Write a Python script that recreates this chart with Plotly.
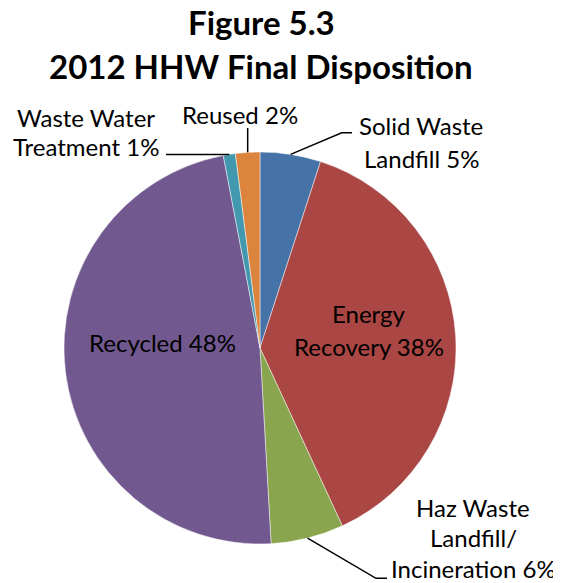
import math
import plotly.graph_objects as go

# ---- data ----
labels = ["Solid Waste Landfill", "Energy Recovery", "Haz Waste Landfill/Incineration",
          "Recycled", "Waste Water Treatment", "Reused"]
values = [5.0, 38.1, 6.0, 47.9, 1.0, 2.0]
label_lines = [["Solid Waste", "Landfill 5%"],
               ["Energy", "Recovery 38%"],
               ["Haz Waste", "Landfill/", "Incineration 6%"],
               ["Recycled 48%"],
               ["Waste Water", "Treatment 1%"],
               ["Reused 2%"]]
colors = ["#4572A7", "#AA4643", "#89A54E", "#71588F", "#4198AF", "#DB843D"]
title_lines = ["Figure 5.3", "2012 HHW Final Disposition"]

# ---- layout (pixels in page coordinates; page body has 8px margin) ----
OFF = 8
W, H = 561 - OFF, 583 - OFF
CX, CY, R = 260, 348, 196
FONT = "Lato"
FS = 24

def px(x):
    return (x - OFF) / W

def py(y):
    return 1 - (y - OFF) / H

# label placement: (center x, first line y, line spacing)
label_pos = [(421, 126, 32), (369, 313, 33), (473, 507, 30.5), (162, 342, 0),
             (86, 117, 29), (240, 114, 0)]
leaders = [[(341.7, 132.7), (352, 132.7)],
           None,
           [(376, 578.3), (387, 578.3)],
           None,
           "horiz",
           "vert"]

fig = go.Figure(go.Pie(
    labels=labels, values=values, sort=False, direction="clockwise", rotation=0,
    marker=dict(colors=colors, line=dict(color="rgba(255,255,255,0.6)", width=0.8)),
    textinfo="none", hoverinfo="label+percent", showlegend=False,
    domain=dict(x=[px(CX - R), px(CX + R)], y=[py(CY + R), py(CY - R)]),
))

annotations = []
for i, t in enumerate(title_lines):
    annotations.append(dict(text=f"<b>{t}</b>", x=px(261), y=py(22 + 44 * i),
                            xref="paper", yref="paper", showarrow=False,
                            xanchor="center", yanchor="middle", borderpad=0,
                            font=dict(family=FONT, size=33, color="black")))

for (lx, ly, ls), lines in zip(label_pos, label_lines):
    for j, ln in enumerate(lines):
        annotations.append(dict(text=ln, x=px(lx), y=py(ly + ls * j),
                                xref="paper", yref="paper", showarrow=False,
                                xanchor="center", yanchor="middle", borderpad=0,
                                font=dict(family=FONT, size=FS, color="black")))

shapes = []
total = sum(values)
cum = 0.0
for i, v in enumerate(values):
    mid = (cum + v / 2) / total
    cum += v
    lead = leaders[i]
    if lead is None:
        continue
    th = 2 * math.pi * mid
    sx = CX + R * math.sin(th)
    sy = CY - R * math.cos(th)
    if lead == "horiz":
        pts = [(sx, sy), (166, sy)]
    elif lead == "vert":
        pts = [(sx, sy), (sx, 128)]
    else:
        pts = [(sx, sy)] + lead
    path = "M " + " L ".join(f"{px(a):.5f},{py(b):.5f}" for a, b in pts)
    shapes.append(dict(type="path", path=path, xref="paper", yref="paper",
                       line=dict(color="black", width=1.5)))

fig.update_layout(width=W, height=H, margin=dict(l=0, r=0, t=0, b=0),
                  paper_bgcolor="white", plot_bgcolor="white",
                  annotations=annotations, shapes=shapes)
fig.write_html("out.html")
